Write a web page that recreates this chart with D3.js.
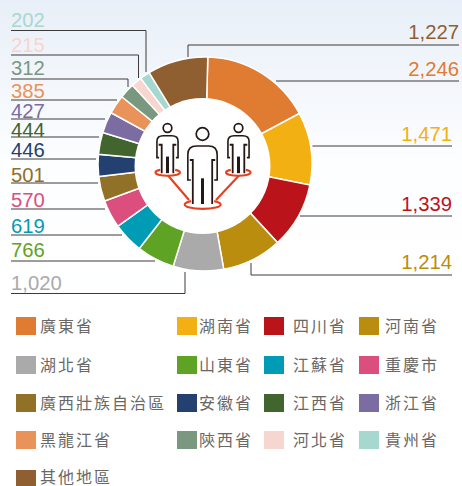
<!DOCTYPE html>
<html lang="zh-TW">
<head>
<meta charset="utf-8">
<script src="https://cdn.jsdelivr.net/npm/d3@7"></script>
<style>
html, body { margin: 0; padding: 0; background: #fff; overflow: hidden; }
svg { display: block; }
</style>
</head>
<body>
<div id="chart"></div>
<script>
var width = 462,
	height = 486;

var provinces = ['廣東省', '湖南省', '四川省', '河南省', '湖北省', '山東省', '江蘇省', '重慶市', '廣西壯族自治區', '安徽省', '江西省', '浙江省', '黑龍江省', '陝西省', '河北省', '貴州省', '其他地區'];
var values = [2246, 1471, 1339, 1214, 1020, 766, 619, 570, 501, 446, 444, 427, 385, 312, 215, 202, 1227];
var colors = ['#e07b32', '#f3b012', '#bb131a', '#bb8d0e', '#aaaaaa', '#5ea323', '#009bb5', '#db4e7d', '#917027', '#234070', '#42652f', '#7b6da2', '#e9935a', '#79987f', '#f6d6cf', '#a7d8d0', '#905f31'];

// label baseline, leader y, leader inner end x, elbow end y (null = no elbow)
var labelY = [76, 141, 211, 269, 290, 257, 233, 207, 182, 157, 137, 118, 98, 75, 52, 27, 39];
var lineY = [81, 146, 216, 275, 293.5, 261, 235, 209, 183, 159, 137, 119, 100, 79, 55, 30.5, 45];
var lineX = [276, 312.5, 300, 251, 185, 155, 122, 105, 98, 96, 99, 105, 117, 128, 138.5, 146, 188];
var elbowY = [null, null, null, 263, 272, null, null, null, null, null, null, null, null, 87, 78, 72, 57];
var lineEnd = [459, 452, 452, 452];

var legendCols = [16, 177, 264, 359];
var legendTextX = [40, 199, 293, 385];
var legendRows = [317, 356, 394, 431, 470];

var svg = d3.select('#chart').append('svg')
	.attr('width', width)
	.attr('height', height);

var grad = svg.append('defs').append('linearGradient')
	.attr('id', 'bg')
	.attr('x1', 0).attr('y1', 0).attr('x2', 0).attr('y2', 1);
grad.append('stop').attr('offset', 0).attr('stop-color', '#e8eff8');
grad.append('stop').attr('offset', 0.55).attr('stop-color', '#fdfeff');
grad.append('stop').attr('offset', 1).attr('stop-color', '#ffffff');
svg.append('rect').attr('width', width).attr('height', 300).attr('fill', 'url(#bg)');

// donut
var cx = 205, cy = 164;
var startAngle = 1.5 * Math.PI / 180;
var pie = d3.pie().sort(null).startAngle(startAngle).endAngle(startAngle + 2 * Math.PI);
var arc = d3.arc().innerRadius(55).outerRadius(107);

var ring = svg.append('g').attr('transform', 'translate(' + cx + ',' + cy + ')');
ring.selectAll('path')
	.data(pie(values))
	.enter().append('path')
	.attr('d', arc)
	.attr('fill', function(d, i) { return colors[i]; })
	.attr('stroke', '#fff')
	.attr('stroke-width', 1.5);

// hole sits a little off centre in the original
svg.append('circle').attr('cx', 202.5).attr('cy', 166).attr('r', 68).attr('fill', '#fff');

// leaders and labels
var leaders = svg.append('g').attr('fill', 'none').attr('stroke', '#3e3a39').attr('stroke-width', 1);
values.forEach(function(v, i) {
	var onRight = i < 4 || i == 16;
	var end = onRight ? (i == 16 ? 459 : lineEnd[i]) : 11;
	var p = d3.path();
	p.moveTo(end, lineY[i]);
	p.lineTo(lineX[i], lineY[i]);
	if (elbowY[i] !== null) p.lineTo(lineX[i], elbowY[i]);
	leaders.append('path').attr('d', p.toString());

	svg.append('text')
		.attr('x', end)
		.attr('y', labelY[i])
		.attr('text-anchor', onRight ? 'end' : 'start')
		.attr('font-family', '"Liberation Sans", sans-serif')
		.attr('font-size', 20.3)
		.attr('fill', colors[i])
		.text(d3.format(',')(v));
});

// centre icon, drawn in px of the picture
var red = '#e8401f', ink = '#231815';
var icon = svg.append('g').attr('fill', 'none');

function person(x, top, headR, sx, sy, inner) {
	var X = function(u) { return x + u * sx; };
	var Y = function(v) { return top + v * sy; };
	icon.append('circle').attr('cx', x).attr('cy', top).attr('r', headR)
		.attr('stroke', ink).attr('stroke-width', 1.7);
	// shoulders and arms, with the small inward foot
	var a = 'M' + X(-35) + ',' + Y(138) + 'H' + X(-44) + 'V' + Y(62)
		+ 'Q' + X(-44) + ',' + Y(36) + ' ' + X(-18) + ',' + Y(36)
		+ 'H' + X(18) + 'Q' + X(44) + ',' + Y(36) + ' ' + X(44) + ',' + Y(62)
		+ 'V' + Y(138) + 'H' + X(35);
	icon.append('path').attr('d', a).attr('stroke', ink).attr('stroke-width', 1.6);
	// body sides with a tick at the top
	var b = 'M' + (x - inner - 3) + ',' + Y(78) + 'H' + (x - inner) + 'V' + Y(210)
		+ 'M' + (x + inner + 3) + ',' + Y(78) + 'H' + (x + inner) + 'V' + Y(210);
	icon.append('path').attr('d', b).attr('stroke', ink).attr('stroke-width', 1.8);
	icon.append('path').attr('d', 'M' + x + ',' + Y(133) + 'V' + Y(210))
		.attr('stroke', ink).attr('stroke-width', 3);
}

person(202.5, 134, 6.3, 1 / 3, 1 / 3, 9.7);
person(167.5, 128, 4.3, 0.24, 0.215, 5.8);
person(238.5, 128, 4.3, 0.24, 0.215, 5.8);

// feet rings stay open at the top where the body passes
function footRing(x, y, rx, ry, gap) {
	var top = y - ry * Math.sqrt(1 - gap * gap / (rx * rx));
	icon.append('path')
		.attr('d', 'M' + (x - gap) + ',' + top + 'A' + rx + ',' + ry + ' 0 1 0 ' + (x + gap) + ',' + top)
		.attr('stroke', red).attr('stroke-width', 2.1);
}
footRing(202.7, 204.5, 18, 4.4, 11.5);
footRing(167.7, 172.5, 12.3, 3.3, 7.5);
footRing(238.3, 172.5, 12.3, 3.3, 7.5);

icon.append('path')
	.attr('d', 'M168,175.5L189,200M239,175.5L216,200')
	.attr('stroke', red).attr('stroke-width', 2.1);

// legend
var legendOrder = [[0, 0], [1, 0], [2, 0], [3, 0], [0, 1], [1, 1], [2, 1], [3, 1], [0, 2], [1, 2], [2, 2], [3, 2], [0, 3], [1, 3], [2, 3], [3, 3], [0, 4]];
provinces.forEach(function(name, i) {
	var c = legendOrder[i][0], r = legendOrder[i][1];
	svg.append('rect')
		.attr('x', legendCols[c])
		.attr('y', legendRows[r])
		.attr('width', 20)
		.attr('height', 18)
		.attr('fill', colors[i]);
	svg.append('text')
		.attr('x', legendTextX[c])
		.attr('y', r == 4 ? 483 : legendRows[r] + 15)
		.attr('font-family', '"Noto Sans CJK TC", sans-serif')
		.attr('font-size', 16)
		.attr('letter-spacing', 2)
		.attr('fill', '#6a6867')
		.text(name);
});
</script>
</body>
</html>
